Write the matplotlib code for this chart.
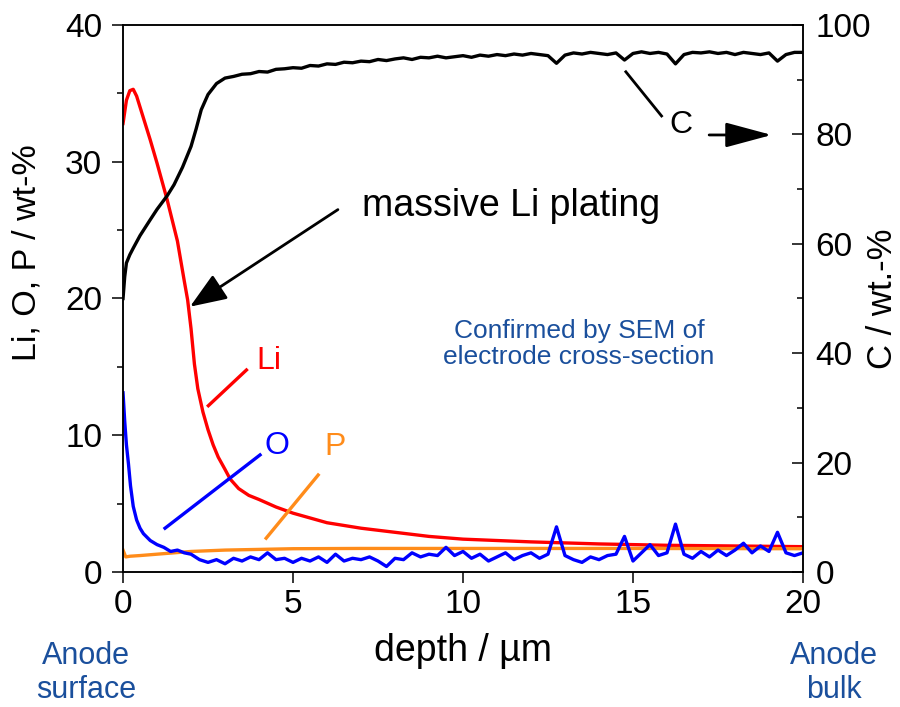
import numpy as np
import matplotlib
matplotlib.use('Agg')
import matplotlib.pyplot as plt

plt.rcParams['font.family'] = ['Liberation Sans', 'DejaVu Sans']

# Li profile (left axis, wt-%)
li_x = [0, 0.1, 0.2, 0.3, 0.4, 0.6, 0.8, 1.0, 1.3, 1.6, 1.8, 1.9, 2.0, 2.1, 2.2,
        2.35, 2.5, 2.65, 2.8, 3.0, 3.15, 3.4, 3.7, 4.0, 4.5, 5.0, 6.0, 7.0, 8.0,
        9.0, 10.0, 12.0, 14.0, 16.0, 18.0, 20.0]
li_y = [32.8, 34.5, 35.2, 35.3, 34.8, 33.2, 31.6, 29.9, 27.2, 24.2, 21.3, 19.9, 17.8,
        15.2, 13.4, 11.7, 10.4, 9.3, 8.4, 7.5, 6.8, 6.1, 5.6, 5.3, 4.75, 4.3, 3.6,
        3.2, 2.9, 2.6, 2.4, 2.2, 2.05, 1.95, 1.9, 1.85]

# O profile (left axis)
o_x = [0, 0.05, 0.1, 0.16, 0.22, 0.3, 0.4, 0.5, 0.6, 0.8, 1.0, 1.2, 1.4, 1.6, 1.8, 2.0,
       2.25, 2.5, 2.75, 3.0, 3.25, 3.5, 3.75, 4.0, 4.25, 4.5, 4.75, 5.0, 5.25, 5.5,
       5.75, 6.0, 6.25, 6.5, 6.75, 7.0, 7.25, 7.5, 7.75, 8.0, 8.25, 8.5, 8.75, 9.0,
       9.25, 9.5, 9.75, 10.0, 10.25, 10.5, 10.75, 11.0, 11.25, 11.5, 11.75, 12.0,
       12.25, 12.5, 12.75, 13.0, 13.25, 13.5, 13.75, 14.0, 14.25, 14.5, 14.75, 15.0,
       15.25, 15.5, 15.75, 16.0, 16.25, 16.5, 16.75, 17.0, 17.25, 17.5, 17.75, 18.0,
       18.25, 18.5, 18.75, 19.0, 19.25, 19.5, 19.75, 20.0]
o_y = [13.1, 11.0, 9.3, 7.9, 6.3, 4.8, 3.8, 3.2, 2.8, 2.3, 2.0, 1.8, 1.5, 1.6, 1.4, 1.3,
       0.9, 0.7, 0.9, 0.6, 1.0, 0.8, 1.1, 0.9, 1.4, 0.9, 1.0, 0.7, 1.0, 0.8,
       1.1, 0.7, 1.3, 0.8, 1.0, 0.9, 1.1, 0.8, 0.4, 1.0, 0.9, 1.4, 1.1, 1.3,
       1.2, 1.8, 1.2, 1.5, 1.0, 1.3, 0.8, 1.1, 1.4, 0.9, 1.2, 1.4,
       1.0, 1.3, 3.3, 1.2, 0.9, 0.7, 1.1, 0.9, 1.2, 1.3, 2.6, 0.8,
       1.4, 2.0, 1.2, 1.4, 3.5, 1.3, 1.0, 1.5, 1.1, 1.6, 1.2, 1.6,
       2.1, 1.4, 1.9, 1.5, 2.9, 1.4, 1.2, 1.4]

# P profile (left axis)
p_x = [0, 0.08, 0.2, 0.5, 1.0, 1.5, 2.0, 3.0, 4.0, 5.0, 7.0, 10.0, 15.0, 20.0]
p_y = [1.6, 1.1, 1.15, 1.2, 1.3, 1.4, 1.5, 1.6, 1.65, 1.7, 1.72, 1.72, 1.72, 1.7]

# C profile (right axis, wt.-%)
c_x = [0, 0.05, 0.1, 0.2, 0.3, 0.5, 0.8, 1.0, 1.3, 1.5, 1.75, 2.0, 2.15, 2.3, 2.5,
       2.75, 3.0, 3.25, 3.5, 3.75, 4.0, 4.25, 4.5, 4.75, 5.0, 5.25, 5.5, 5.75, 6.0,
       6.25, 6.5, 6.75, 7.0, 7.25, 7.5, 7.75, 8.0, 8.25, 8.5, 8.75, 9.0, 9.25, 9.5,
       9.75, 10.0, 10.25, 10.5, 10.75, 11.0, 11.25, 11.5, 11.75, 12.0, 12.25, 12.5,
       12.75, 13.0, 13.25, 13.5, 13.75, 14.0, 14.25, 14.5, 14.75, 15.0, 15.25, 15.5,
       15.75, 16.0, 16.25, 16.5, 16.75, 17.0, 17.25, 17.5, 17.75, 18.0, 18.25, 18.5,
       18.75, 19.0, 19.25, 19.5, 19.75, 20.0]
c_y = [50, 54, 56.5, 58, 59.2, 61.5, 64.4, 66.3, 68.8, 70.8, 74, 77.8, 81, 84.5, 87.3,
       89.3, 90.3, 90.6, 91.0, 91.1, 91.5, 91.4, 91.9, 92.0, 92.2, 92.1, 92.6, 92.5, 92.9,
       92.8, 93.2, 93.1, 93.4, 93.3, 93.7, 93.5, 93.8, 94.0, 93.7, 94.1, 94.0, 94.3, 94.0,
       94.2, 94.4, 94.1, 94.5, 94.3, 94.6, 94.4, 94.7, 94.5, 94.8, 94.6, 94.4,
       93.0, 94.5, 94.9, 94.7, 95.0, 94.8, 94.6, 94.9, 93.6, 94.8, 95.1, 94.8,
       95.0, 94.7, 92.9, 94.6, 95.0, 94.9, 95.1, 94.8, 95.0, 94.6, 95.0, 94.8,
       94.6, 94.9, 93.4, 94.6, 95.0, 95.0]

blue_txt = '#1a4f9c'

fig = plt.figure(figsize=(9, 7.07), dpi=100)
ax = fig.add_axes([0.1367, 0.191, 0.7555, 0.7736])
ax2 = ax.twinx()

ax.plot(li_x, li_y, color='#ff0000', lw=2.4)
ax.plot(p_x, p_y, color='#ff8c1a', lw=2.4)
ax.plot(o_x, o_y, color='#0000ff', lw=2.4)
ax2.plot(c_x, c_y, color='black', lw=2.4)

ax.set_xlim(0, 20)
ax.set_ylim(0, 40)
ax2.set_ylim(0, 100)

ax.set_xticks([0, 5, 10, 15, 20])
ax.set_yticks([0, 10, 20, 30, 40])
ax.set_yticks([5, 15, 25, 35], minor=True)
ax2.set_yticks([0, 20, 40, 60, 80, 100])
ax2.set_yticks([10, 30, 50, 70, 90], minor=True)

for a in (ax, ax2):
    for s in a.spines.values():
        s.set_linewidth(1.1)
ax.tick_params(axis='both', which='major', direction='out', length=8, width=1.1,
               labelsize=24, top=False, right=False)
ax.tick_params(axis='y', which='major', pad=7)
ax.tick_params(axis='x', which='major', pad=4)
ax.tick_params(axis='y', which='minor', direction='out', length=4.5, width=1.1)
ax2.tick_params(axis='y', which='major', direction='in', length=8, width=1.1,
                labelsize=24, pad=9)
ax2.tick_params(axis='y', which='minor', direction='in', length=4.5, width=1.1)

ax.set_xlabel('depth / µm', fontsize=27)
ax.xaxis.set_label_coords(0.5, -0.112)
ax.set_ylabel('Li, O, P / wt-%', fontsize=24.5)
ax.yaxis.set_label_coords(-0.118, 0.583)
ax2.set_ylabel('C / wt.-%', fontsize=25)
ax2.yaxis.set_label_coords(1.093, 0.5)

# annotations
ax.annotate('', xy=(1.97, 19.4), xytext=(6.32, 26.5),
            arrowprops=dict(arrowstyle='-|>,head_length=0.9,head_width=0.35',
                            color='black', lw=2, mutation_scale=25, shrinkA=0, shrinkB=0))
ax.text(7.03, 26.8, 'massive Li plating', fontsize=27, ha='left', va='center')

ax.plot([2.51, 3.63], [12.16, 14.77], color='#ff0000', lw=2.4)
ax.text(4.28, 15.45, 'Li', color='#ff0000', fontsize=23, ha='center', va='center')
ax.plot([1.235, 4.03], [3.2, 8.56], color='#0000ff', lw=2.4)
ax.text(4.52, 9.21, 'O', color='#0000ff', fontsize=23, ha='center', va='center')
ax.plot([4.21, 5.74], [2.47, 7.09], color='#ff8c1a', lw=2.4)
ax.text(6.24, 9.12, 'P', color='#ff8c1a', fontsize=23, ha='center', va='center')

ax.plot([14.79, 15.84], [36.58, 33.35], color='black', lw=2)
ax.text(16.40, 32.7, 'C', fontsize=23, ha='center', va='center')
ax.annotate('', xy=(19.08, 31.96), xytext=(17.24, 31.96),
            arrowprops=dict(arrowstyle='-|>,head_length=1.3,head_width=0.35',
                            color='black', lw=2, mutation_scale=22, shrinkA=0, shrinkB=0))

ax.text(13.41, 16.67, 'Confirmed by SEM of\nelectrode cross-section', color=blue_txt,
        fontsize=19, ha='center', va='center', linespacing=1.15)

fig.text(86 / 900, 1 - 673 / 707, 'Anode\nsurface', color=blue_txt, fontsize=22,
         ha='center', va='center', linespacing=1.15)
fig.text(834 / 900, 1 - 673 / 707, 'Anode\nbulk', color=blue_txt, fontsize=22,
         ha='center', va='center', linespacing=1.15)

fig.savefig('out.png', dpi=100)
